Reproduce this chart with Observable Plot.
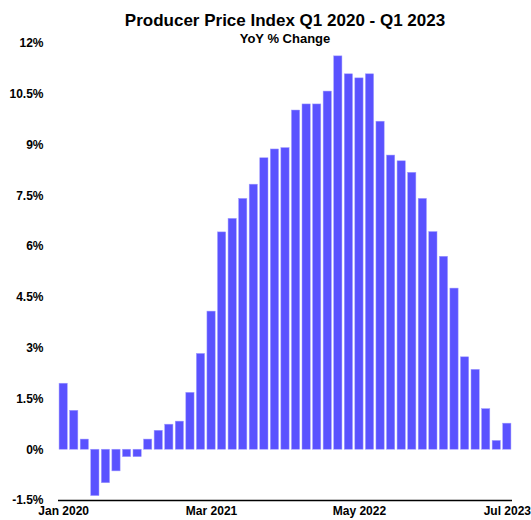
<!DOCTYPE html>
<html>
<head>
<meta charset="utf-8">
<script src="https://cdn.jsdelivr.net/npm/d3@7"></script>
<script src="https://cdn.jsdelivr.net/npm/@observablehq/plot@0.6"></script>
<style>
  html, body { margin: 0; padding: 0; background: #fff; }
  #wrap { position: relative; width: 531px; height: 520px; font-family: "Liberation Sans", Arial, Helvetica, sans-serif; }
  .title { position: absolute; left: 58px; width: 454px; text-align: center; font-weight: bold; color: #000; white-space: nowrap; }
  #t1 { top: 11px; font-size: 17px; }
  #t2 { top: 31px; font-size: 13px; }
</style>
</head>
<body>
<div id="wrap">
  <div id="chart"></div>
  <div class="title" id="t1">Producer Price Index Q1 2020 - Q1 2023</div>
  <div class="title" id="t2">YoY % Change</div>
</div>
<script>
const months = [
  "Jan 2020","Feb 2020","Mar 2020","Apr 2020","May 2020","Jun 2020","Jul 2020","Aug 2020","Sep 2020","Oct 2020","Nov 2020","Dec 2020",
  "Jan 2021","Feb 2021","Mar 2021","Apr 2021","May 2021","Jun 2021","Jul 2021","Aug 2021","Sep 2021","Oct 2021","Nov 2021","Dec 2021",
  "Jan 2022","Feb 2022","Mar 2022","Apr 2022","May 2022","Jun 2022","Jul 2022","Aug 2022","Sep 2022","Oct 2022","Nov 2022","Dec 2022",
  "Jan 2023","Feb 2023","Mar 2023","Apr 2023","May 2023","Jun 2023","Jul 2023"
];
const yoyChange = [
  1.95, 1.15, 0.30, -1.37, -0.99, -0.64, -0.22, -0.22, 0.30, 0.56, 0.74, 0.83,
  1.68, 2.83, 4.08, 6.42, 6.82, 7.41, 7.83, 8.61, 8.87, 8.91, 10.02, 10.20,
  10.20, 10.58, 11.62, 11.09, 10.97, 11.09, 9.69, 8.69, 8.52, 8.18, 7.41, 6.43,
  5.70, 4.76, 2.73, 2.36, 1.20, 0.26, 0.77
];
const xTickLabels = ["Jan 2020", "Mar 2021", "May 2022", "Jul 2023"];
const yTicks = [-1.5, 0, 1.5, 3, 4.5, 6, 7.5, 9, 10.5, 12];

const data = months.map((m, i) => ({month: m, value: yoyChange[i]}));

const chart = Plot.plot({
  width: 531,
  height: 520,
  marginTop: 43,
  marginBottom: 20,
  marginLeft: 58,
  marginRight: 19,
  style: {
    fontFamily: "'Liberation Sans', Arial, Helvetica, sans-serif",
    fontSize: "12px",
    fontWeight: "bold",
    color: "#000",
    overflow: "visible"
  },
  x: {
    type: "band",
    domain: months,
    round: false,
    paddingInner: 0.22,
    paddingOuter: 0.1,
    ticks: xTickLabels,
    tickSize: 0,
    tickPadding: 6,
    label: null
  },
  y: {
    domain: [-1.5, 12],
    ticks: yTicks,
    tickFormat: d => String(d) + "%",
    tickSize: 0,
    tickPadding: 15,
    label: null
  },
  marks: [
    Plot.barY(data, {x: "month", y: "value", fill: "#5a52ff", stroke: "#a09bff", strokeWidth: 0.5}),
    Plot.ruleY([-1.5], {stroke: "#000", strokeWidth: 1.5})
  ]
});
document.getElementById("chart").appendChild(chart);
</script>
</body>
</html>
